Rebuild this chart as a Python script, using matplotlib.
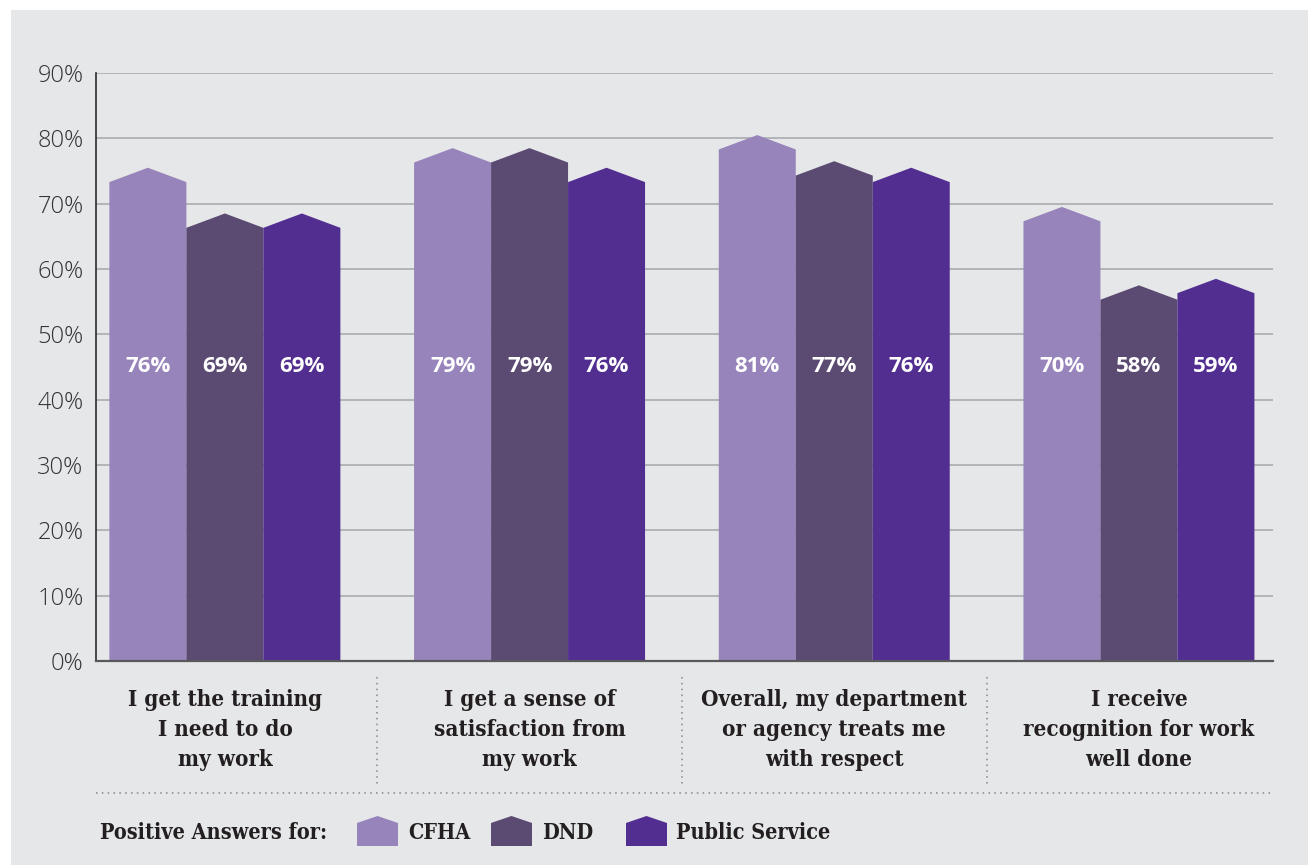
import matplotlib
matplotlib.use("Agg")
import matplotlib.pyplot as plt
from matplotlib.patches import Rectangle, Polygon
import matplotlib.transforms as mtrans

categories = ["I get the training\nI need to do\nmy work",
              "I get a sense of\nsatisfaction from\nmy work",
              "Overall, my department\nor agency treats me\nwith respect",
              "I receive\nrecognition for work\nwell done"]
series_names = ["CFHA", "DND", "Public Service"]
cfha = [76, 79, 81, 70]
dnd = [69, 79, 77, 58]
public_service = [69, 76, 76, 59]
yticks = [0, 10, 20, 30, 40, 50, 60, 70, 80, 90]
ytick_labels = [f"{v}%" for v in yticks]

colors = ["#9784bb", "#5b4a72", "#522e91"]
bg = "#e6e7e9"
txt = "#231f20"
serif = dict(family="DejaVu Serif", fontstretch="condensed", fontweight="bold")

W, H = 1308, 865
fig = plt.figure(figsize=(W / 100, H / 100), dpi=100, facecolor="white")
fig.patches.append(Rectangle((11 / W, 0), 1 - 11 / W, 1 - 10 / H,
                             transform=fig.transFigure, facecolor=bg,
                             edgecolor="none", zorder=-10))

ax = fig.add_axes([96 / W, (H - 661) / H, (1273 - 96) / W, (661 - 73) / H])
ax.set_facecolor(bg)
ax.set_zorder(1)

bw = 0.2527
roof = 2.2
series = [cfha, dnd, public_service]
for si, vals in enumerate(series):
    for gi, v in enumerate(vals):
        xc = gi + (si - 1) * bw
        x0, x1 = xc - bw / 2, xc + bw / 2
        top = v - 0.5
        pts = [(x0, 0), (x0, top - roof), (xc, top), (x1, top - roof), (x1, 0)]
        ax.add_patch(Polygon(pts, closed=True, facecolor=colors[si],
                             edgecolor="none", zorder=3))
        ax.text(xc, 45.0, f"{v}%", ha="center", va="center", color="white",
                fontsize=16, fontweight="bold", family="Open Sans", zorder=4)

ax.set_xlim(-0.423, 3.44)
ax.set_ylim(0, 90)
ax.set_yticks(yticks)
ax.set_yticklabels(ytick_labels)
ax.set_xticks([])
up = mtrans.ScaledTranslation(0, 5 / 100, fig.dpi_scale_trans)
for lab in ax.get_yticklabels():
    lab.set_family("Open Sans")
    lab.set_fontweight("light")
    lab.set_fontsize(17)
    lab.set_color("#333333")
    lab.set_transform(lab.get_transform() + up)
ax.tick_params(axis="y", length=0, pad=9)
ax.yaxis.grid(True, color="#a5a7aa", linewidth=1.1, zorder=1)
ax.set_axisbelow(True)
for s in ["top", "right"]:
    ax.spines[s].set_visible(False)
ax.spines["left"].set_color("#2b2b2b")
ax.spines["left"].set_linewidth(1.2)
ax.spines["bottom"].set_color("#58595b")
ax.spines["bottom"].set_linewidth(1.6)
ax.spines["bottom"].set_zorder(5)

blend = mtrans.blended_transform_factory(ax.transData, ax.transAxes)
for gi, lab in enumerate(categories):
    ax.text(gi, -0.047, lab, transform=blend, ha="center", va="top",
            fontsize=16, color=txt, linespacing=1.47, **serif)
for gi in range(len(categories) - 1):
    xd = gi + 0.5
    ax.plot([xd, xd], [-0.027, -0.21], transform=blend, clip_on=False,
            color="#9a9b9e", linewidth=1.4, linestyle=(0, (0.8, 2.2)))
ax.plot([0, 1], [-0.225, -0.225], transform=ax.transAxes, clip_on=False,
        color="#9a9b9e", linewidth=1.4, linestyle=(0, (0.8, 2.2)))

# legend
def fx(px):
    return px / W

def fy(py):
    return (H - py) / H

fig.text(fx(100), fy(833), "Positive Answers for:", ha="left", va="center",
         fontsize=15.5, color=txt, **serif)
leg_x = [357, 491, 626]
txt_x = [408, 542, 676]
for i, name in enumerate(series_names):
    x0 = leg_x[i]
    x1 = x0 + 41
    xc = (x0 + x1) / 2
    pts = [(fx(x0), fy(846)), (fx(x0), fy(823)), (fx(xc), fy(816)),
           (fx(x1), fy(823)), (fx(x1), fy(846))]
    fig.patches.append(Polygon(pts, closed=True, transform=fig.transFigure,
                               facecolor=colors[i], edgecolor="none"))
    fig.text(fx(txt_x[i]), fy(833), name, ha="left", va="center",
             fontsize=15.5, color=txt, **serif)

fig.savefig("out.png", dpi=100, facecolor="white")
